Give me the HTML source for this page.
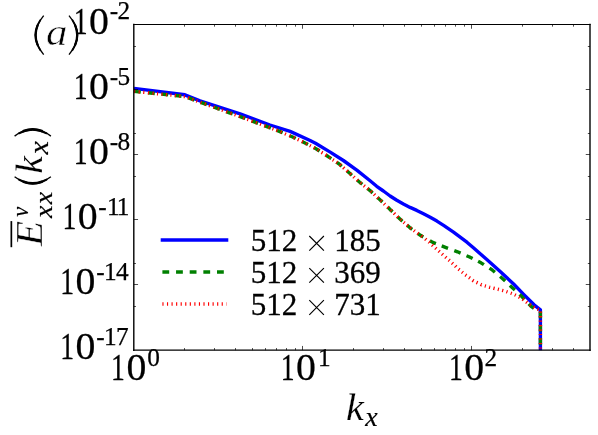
<!DOCTYPE html>
<html><head><meta charset="utf-8"><title>spectrum</title><style>
html,body{margin:0;padding:0;background:#fff;}
body{width:598px;height:435px;overflow:hidden;}
svg{display:block;will-change:transform;}
text{font-family:"Liberation Serif",serif;fill:#000;}
.cm{stroke:#000;stroke-width:0.3px;}
.tk{stroke:#000;stroke-width:0.7px;}
.sp{stroke:#000;stroke-width:0.25px;}
.sb{stroke:#000;stroke-width:0.7px;}
</style></head><body>
<svg width="598" height="435" viewBox="0 0 598 435">
<rect width="598" height="435" fill="#fff"/>
<defs><clipPath id="c"><rect x="133.8" y="24.5" width="456.2" height="325.7"/></clipPath></defs>
<g clip-path="url(#c)" fill="none" stroke-linejoin="round" stroke-width="3.4">
<path d="M134.0,88.4 L184.9,94.8 L200.0,100.9 L240.1,113.8 L270.0,125.0 L290.1,131.4 L310.1,140.5 L315.5,143.2 L330.2,152.1 L343.4,160.5 L356.8,170.1 L370.1,180.8 L376.7,186.3 L383.4,191.0 L390.1,196.0 L396.8,200.3 L403.4,204.0 L410.1,207.4 L416.8,210.4 L423.5,213.8 L430.2,217.3 L436.9,221.1 L443.6,225.4 L453.5,232.2 L466.9,242.2 L473.4,247.8 L486.8,259.5 L500.2,271.6 L513.6,284.0 L523.4,294.1 L534.1,304.8 L540.4,309.8 L540.4,352.0" stroke="#0000ff"/>
<path d="M134.0,91.4 L140.8,92.1 M148.0,92.8 L154.8,93.5 M161.4,94.1 L168.2,94.8 M174.8,95.5 L178.2,95.8 L181.5,96.2 M188.0,97.7 L194.4,100.1 M200.4,102.3 L203.5,103.4 L206.8,104.6 M213.5,107.0 L216.7,108.2 L219.9,109.3 M226.2,111.7 L229.4,112.8 L232.6,113.9 M238.9,116.2 L242.1,117.3 L245.3,118.5 M251.6,120.9 L254.8,122.1 L258.0,123.3 M264.4,125.7 L267.6,126.9 L270.8,128.1 M276.3,130.2 L280.0,131.6 L282.6,132.7 M289.6,135.7 L292.7,137.0 L295.7,138.5 M302.0,141.4 L305.0,142.9 L308.0,144.5 M313.8,147.6 L316.8,149.2 L319.6,151.0 M325.7,155.0 L328.5,156.8 L331.3,158.7 M336.4,162.1 L339.2,164.0 L341.7,166.2 M346.9,170.8 L349.4,173.0 L351.9,175.2 M357.2,180.0 L359.7,182.2 L362.3,184.3 M367.5,188.5 L370.1,190.6 L372.6,192.9 M377.5,197.5 L380.0,199.8 L382.4,202.1 M387.7,207.1 L390.1,209.4 L392.5,211.8 M397.5,216.6 L399.7,218.8 L402.4,221.2 M407.0,225.1 L409.5,227.3 L412.2,229.3 M417.7,233.3 L420.4,235.3 L423.3,237.0 M429.9,240.7 L432.8,242.4 L435.9,243.6 M441.7,245.9 L444.8,247.1 L448.0,248.3 M454.3,250.6 L457.5,251.8 L460.6,253.1 M466.5,255.7 L469.6,257.0 L472.6,258.5 M478.1,261.3 L481.0,262.8 L483.9,264.7 M489.5,268.2 L492.5,270.2 L494.9,272.2 M500.1,276.5 L502.7,278.7 L505.2,281.0 M509.9,285.5 L512.4,287.8 L514.9,290.1 M519.6,294.5 L522.1,296.8 L524.4,299.3 M528.8,303.9 L531.1,306.4 L533.9,308.2 M540.4,311.6 L540.4,318.2 M540.4,324.8 L540.4,331.5 M540.4,338.1 L540.4,344.8" stroke="#008000"/>
<path d="M134.0,91.4 L135.2,91.5 M138.6,91.9 L139.8,92.0 M143.2,92.3 L144.4,92.4 M147.9,92.8 L149.1,92.9 M152.5,93.2 L153.7,93.4 M157.0,93.7 L158.1,93.8 M161.4,94.1 L162.6,94.2 M165.9,94.6 L167.1,94.7 M170.4,95.0 L171.5,95.1 M174.8,95.5 L176.0,95.6 M179.3,95.9 L180.4,96.1 M183.7,96.5 L184.9,96.6 M188.0,97.7 L189.1,98.1 M192.2,99.3 L193.3,99.7 M196.3,100.8 L197.4,101.2 M200.5,102.3 L201.5,102.7 M204.6,103.8 L205.8,104.2 M209.0,105.4 L210.1,105.8 M213.4,107.0 L214.5,107.4 M217.7,108.6 L218.8,109.0 M221.9,110.1 L223.0,110.5 M226.2,111.6 L227.3,112.0 M230.4,113.2 L231.5,113.5 M234.6,114.6 L235.7,115.0 M238.9,116.1 L239.9,116.5 M243.1,117.7 L244.2,118.1 M247.3,119.3 L248.4,119.7 M251.5,120.9 L252.6,121.3 M255.8,122.5 L256.9,122.9 M260.0,124.1 L261.1,124.5 M264.3,125.7 L265.4,126.1 M268.5,127.2 L269.5,127.6 M272.5,128.7 L273.5,129.1 M276.4,130.2 L277.5,130.6 M280.5,131.8 L281.6,132.3 M284.9,133.7 L286.0,134.2 M289.3,135.5 L290.4,136.0 M293.6,137.4 L294.7,137.9 M297.7,139.4 L298.8,139.9 M301.8,141.4 L302.9,141.9 M305.9,143.4 L306.9,143.9 M309.8,145.5 L310.8,146.0 M313.7,147.6 L314.7,148.1 M317.7,149.8 L318.7,150.4 M321.5,152.3 L322.6,152.9 M325.4,154.8 L326.5,155.5 M329.3,157.3 L330.2,157.9 M332.8,159.7 L333.8,160.3 M336.4,162.1 L337.3,162.7 M339.9,164.6 L340.8,165.4 M343.3,167.6 L344.2,168.4 M346.7,170.6 L347.6,171.4 M350.1,173.6 L351.0,174.4 M353.6,176.7 L354.4,177.5 M357.0,179.8 L357.9,180.6 M360.4,182.8 L361.3,183.5 M363.9,185.6 L364.8,186.3 M367.4,188.4 L368.3,189.1 M370.8,191.2 L371.6,192.0 M374.1,194.3 L374.9,195.1 M377.4,197.4 L378.2,198.2 M380.7,200.5 L381.6,201.3 M384.1,203.7 L384.9,204.5 M387.4,206.9 L388.3,207.7 M390.8,210.0 L391.6,210.9 M394.0,213.2 L394.9,214.1 M397.3,216.4 L398.1,217.3 M400.5,219.5 L401.4,220.2 M403.7,222.3 L404.6,223.0 M406.9,225.1 L407.8,225.8 M410.2,227.8 L411.2,228.5 M413.9,230.5 L414.8,231.2 M417.5,233.2 L418.4,233.8 M421.2,235.9 L422.3,236.7 M425.3,239.0 L426.2,239.8 M428.8,241.9 L429.4,242.4 L429.6,242.6 M432.1,244.9 L433.0,245.7 M435.4,247.9 L436.3,248.7 M438.7,250.9 L439.6,251.7 M442.0,253.9 L442.9,254.7 M445.4,256.9 L446.3,257.7 M448.8,259.9 L449.6,260.6 M452.0,262.9 L452.9,263.7 M455.3,266.0 L456.1,266.9 M458.6,269.1 L459.5,269.8 M462.0,272.0 L462.9,272.7 M465.4,274.8 L466.4,275.5 M469.0,277.5 L470.0,278.2 M472.6,280.2 L473.4,280.8 L473.6,280.9 M476.5,282.4 L477.6,282.9 M480.6,284.3 L481.5,284.8 L481.6,284.8 M484.8,285.8 L485.9,286.1 M489.1,287.1 L489.7,287.3 L490.2,287.4 M493.4,288.2 L494.6,288.5 M497.8,289.2 L498.9,289.5 M502.1,290.4 L503.3,290.7 M506.4,291.6 L507.5,292.0 M510.7,293.1 L511.8,293.5 M514.8,294.8 L515.8,295.3 M518.8,296.9 L519.8,297.5 M522.6,299.2 L523.6,299.9 M526.2,301.9 L527.1,302.6 M529.8,304.6 L530.1,304.8 L530.8,305.2 M533.6,306.9 L534.6,307.5 M537.5,309.1 L538.6,309.5 M540.4,311.5 L540.4,312.7 M540.4,316.0 L540.4,317.2 M540.4,320.5 L540.4,321.7 M540.4,325.0 L540.4,326.2 M540.4,329.5 L540.4,330.7 M540.4,334.0 L540.4,335.1 M540.4,338.5 L540.4,339.6 M540.4,342.9 L540.4,344.1 M540.4,347.4 L540.4,348.6 M540.4,351.9 L540.4,352.0" stroke="#ff0000"/>
</g>
<g stroke="#000" stroke-width="0.7">
<line x1="184.50" y1="350.2" x2="184.50" y2="348.05"/>
<line x1="184.50" y1="24.5" x2="184.50" y2="26.65"/>
<line x1="214.50" y1="350.2" x2="214.50" y2="348.05"/>
<line x1="214.50" y1="24.5" x2="214.50" y2="26.65"/>
<line x1="235.50" y1="350.2" x2="235.50" y2="348.05"/>
<line x1="235.50" y1="24.5" x2="235.50" y2="26.65"/>
<line x1="252.50" y1="350.2" x2="252.50" y2="348.05"/>
<line x1="252.50" y1="24.5" x2="252.50" y2="26.65"/>
<line x1="265.50" y1="350.2" x2="265.50" y2="348.05"/>
<line x1="265.50" y1="24.5" x2="265.50" y2="26.65"/>
<line x1="276.50" y1="350.2" x2="276.50" y2="348.05"/>
<line x1="276.50" y1="24.5" x2="276.50" y2="26.65"/>
<line x1="286.50" y1="350.2" x2="286.50" y2="348.05"/>
<line x1="286.50" y1="24.5" x2="286.50" y2="26.65"/>
<line x1="295.50" y1="350.2" x2="295.50" y2="348.05"/>
<line x1="295.50" y1="24.5" x2="295.50" y2="26.65"/>
<line x1="302.50" y1="350.2" x2="302.50" y2="345.95"/>
<line x1="302.50" y1="24.5" x2="302.50" y2="28.75"/>
<line x1="353.50" y1="350.2" x2="353.50" y2="348.05"/>
<line x1="353.50" y1="24.5" x2="353.50" y2="26.65"/>
<line x1="383.50" y1="350.2" x2="383.50" y2="348.05"/>
<line x1="383.50" y1="24.5" x2="383.50" y2="26.65"/>
<line x1="404.50" y1="350.2" x2="404.50" y2="348.05"/>
<line x1="404.50" y1="24.5" x2="404.50" y2="26.65"/>
<line x1="421.50" y1="350.2" x2="421.50" y2="348.05"/>
<line x1="421.50" y1="24.5" x2="421.50" y2="26.65"/>
<line x1="434.50" y1="350.2" x2="434.50" y2="348.05"/>
<line x1="434.50" y1="24.5" x2="434.50" y2="26.65"/>
<line x1="445.50" y1="350.2" x2="445.50" y2="348.05"/>
<line x1="445.50" y1="24.5" x2="445.50" y2="26.65"/>
<line x1="455.50" y1="350.2" x2="455.50" y2="348.05"/>
<line x1="455.50" y1="24.5" x2="455.50" y2="26.65"/>
<line x1="464.50" y1="350.2" x2="464.50" y2="348.05"/>
<line x1="464.50" y1="24.5" x2="464.50" y2="26.65"/>
<line x1="471.50" y1="350.2" x2="471.50" y2="345.95"/>
<line x1="471.50" y1="24.5" x2="471.50" y2="28.75"/>
<line x1="522.50" y1="350.2" x2="522.50" y2="348.05"/>
<line x1="522.50" y1="24.5" x2="522.50" y2="26.65"/>
<line x1="552.50" y1="350.2" x2="552.50" y2="348.05"/>
<line x1="552.50" y1="24.5" x2="552.50" y2="26.65"/>
<line x1="573.50" y1="350.2" x2="573.50" y2="348.05"/>
<line x1="573.50" y1="24.5" x2="573.50" y2="26.65"/>
<line x1="133.8" y1="89.50" x2="138.05" y2="89.50"/>
<line x1="590.0" y1="89.50" x2="585.75" y2="89.50"/>
<line x1="133.8" y1="154.50" x2="138.05" y2="154.50"/>
<line x1="590.0" y1="154.50" x2="585.75" y2="154.50"/>
<line x1="133.8" y1="219.50" x2="138.05" y2="219.50"/>
<line x1="590.0" y1="219.50" x2="585.75" y2="219.50"/>
<line x1="133.8" y1="284.50" x2="138.05" y2="284.50"/>
<line x1="590.0" y1="284.50" x2="585.75" y2="284.50"/>
<line x1="133.8" y1="46.50" x2="135.95000000000002" y2="46.50"/>
<line x1="590.0" y1="46.50" x2="587.85" y2="46.50"/>
<line x1="133.8" y1="133.50" x2="135.95000000000002" y2="133.50"/>
<line x1="590.0" y1="133.50" x2="587.85" y2="133.50"/>
<line x1="133.8" y1="176.50" x2="135.95000000000002" y2="176.50"/>
<line x1="590.0" y1="176.50" x2="587.85" y2="176.50"/>
<line x1="133.8" y1="263.50" x2="135.95000000000002" y2="263.50"/>
<line x1="590.0" y1="263.50" x2="587.85" y2="263.50"/>
<line x1="133.8" y1="306.50" x2="135.95000000000002" y2="306.50"/>
<line x1="590.0" y1="306.50" x2="587.85" y2="306.50"/>
</g>
<g stroke="#000" stroke-linecap="square">
<line x1="133.8" y1="24.5" x2="133.8" y2="350.2" stroke-width="1.4"/>
<line x1="590.0" y1="24.5" x2="590.0" y2="350.2" stroke-width="1.4"/>
<line x1="133.8" y1="24.5" x2="590.0" y2="24.5" stroke-width="1.15"/>
<line x1="133.8" y1="350.2" x2="590.0" y2="350.2" stroke-width="1.3"/>
</g>
<text transform="translate(73.71,33.70) scale(0.2771,0.3740)" font-size="100" class="tk">1</text><text transform="translate(89.01,33.63) scale(0.3976,0.3733)" font-size="100" class="tk">0</text>
<text y="19.4" font-size="25.3" class="sp" x="109.71" letter-spacing="-0.6">-2</text>
<text transform="translate(73.71,98.80) scale(0.2771,0.3740)" font-size="100" class="tk">1</text><text transform="translate(89.01,98.73) scale(0.3976,0.3733)" font-size="100" class="tk">0</text>
<text y="84.5" font-size="25.3" class="sp" x="109.71" letter-spacing="-0.6">-5</text>
<text transform="translate(73.71,163.90) scale(0.2771,0.3740)" font-size="100" class="tk">1</text><text transform="translate(89.01,163.83) scale(0.3976,0.3733)" font-size="100" class="tk">0</text>
<text y="149.6" font-size="25.3" class="sp" x="109.71" letter-spacing="-0.6">-8</text>
<text transform="translate(62.51,229.00) scale(0.2771,0.3740)" font-size="100" class="tk">1</text><text transform="translate(77.81,228.93) scale(0.3976,0.3733)" font-size="100" class="tk">0</text>
<text y="214.7" font-size="25.3" class="sp"><tspan x="98.21">-</tspan><tspan x="106.9" letter-spacing="-1.85">11</tspan></text>
<text transform="translate(60.31,294.10) scale(0.2771,0.3740)" font-size="100" class="tk">1</text><text transform="translate(75.61,294.03) scale(0.3976,0.3733)" font-size="100" class="tk">0</text>
<text y="279.8" font-size="25.3" class="sp" x="96.21" letter-spacing="-0.6">-14</text>
<text transform="translate(60.31,359.20) scale(0.2771,0.3740)" font-size="100" class="tk">1</text><text transform="translate(75.61,359.13) scale(0.3976,0.3733)" font-size="100" class="tk">0</text>
<text y="344.9" font-size="25.3" class="sp" x="96.21" letter-spacing="-0.6">-17</text>
<text transform="translate(111.11,379.90) scale(0.2771,0.3740)" font-size="100" class="tk">1</text><text transform="translate(126.41,379.83) scale(0.3976,0.3733)" font-size="100" class="tk">0</text>
<text y="365.6" font-size="25.3" class="sp" x="147.19">0</text>
<text transform="translate(280.81,379.90) scale(0.2771,0.3740)" font-size="100" class="tk">1</text><text transform="translate(296.11,379.83) scale(0.3976,0.3733)" font-size="100" class="tk">0</text>
<text y="365.6" font-size="25.3" class="sp" x="317.92">1</text>
<text transform="translate(449.01,379.90) scale(0.2771,0.3740)" font-size="100" class="tk">1</text><text transform="translate(464.31,379.83) scale(0.3976,0.3733)" font-size="100" class="tk">0</text>
<text y="365.6" font-size="25.3" class="sp" x="484.46">2</text>
<line x1="160.7" y1="240" x2="228.3" y2="240" stroke="#0000ff" stroke-width="3.5"/>
<line x1="162.4" y1="272.05" x2="226.6" y2="272.05" stroke="#008000" stroke-width="3.4" stroke-dasharray="6.8 6.85"/>
<line x1="162.4" y1="304" x2="226.6" y2="304" stroke="#ff0000" stroke-width="3.4" stroke-dasharray="1.14 3.42"/>
<text transform="translate(250.8,251.2) scale(0.954,1)" font-size="32.5" class="cm">512</text>
<text transform="translate(334.2,251.2) scale(0.954,1)" font-size="32.5" class="cm">185</text>
<path d="M309.3,236.0 L323.9,250.6 M323.9,236.0 L309.3,250.6" stroke="#000" stroke-width="1.15" fill="none"/>
<text transform="translate(250.8,283.3) scale(0.954,1)" font-size="32.5" class="cm">512</text>
<text transform="translate(334.2,283.3) scale(0.954,1)" font-size="32.5" class="cm">369</text>
<path d="M309.3,268.1 L323.9,282.7 M323.9,268.1 L309.3,282.7" stroke="#000" stroke-width="1.15" fill="none"/>
<text transform="translate(250.8,315.4) scale(0.954,1)" font-size="32.5" class="cm">512</text>
<text transform="translate(334.2,315.4) scale(0.954,1)" font-size="32.5" class="cm">731</text>
<path d="M309.3,300.2 L323.9,314.79999999999995 M323.9,300.2 L309.3,314.79999999999995" stroke="#000" stroke-width="1.15" fill="none"/>
<path d="M43.69,15.60 Q27.41,35.10 43.69,54.60" fill="none" stroke="#000" stroke-width="1.35"/><path d="M40.25,20.28 Q30.85,35.10 40.25,49.92" fill="none" stroke="#000" stroke-width="1.82" stroke-linecap="round"/><path d="M37.59,25.35 Q33.51,35.10 37.59,44.85" fill="none" stroke="#000" stroke-width="2.30" stroke-linecap="round"/><text transform="translate(45.91,45.21) scale(0.4302,0.3896)" font-size="100" font-style="italic" stroke="#fff" stroke-width="1.34">a</text><path d="M69.01,15.60 Q85.49,35.10 69.01,54.60" fill="none" stroke="#000" stroke-width="1.35"/><path d="M72.49,20.28 Q82.01,35.10 72.49,49.92" fill="none" stroke="#000" stroke-width="1.82" stroke-linecap="round"/><path d="M75.19,25.35 Q79.31,35.10 75.19,44.85" fill="none" stroke="#000" stroke-width="2.30" stroke-linecap="round"/>
<text transform="translate(346.09,419.60) scale(0.4023,0.3768)" font-size="100" font-style="italic" stroke="#fff" stroke-width="0.51">k</text><text transform="translate(365.28,425.80) scale(0.2809,0.2791)" font-size="100" font-style="italic" class="sb">x</text>
<g transform="translate(41.5,246.5) rotate(-90)">
<rect x="-0.7" y="-31.0" width="26.1" height="1.7" fill="#000"/>
<text transform="translate(0.21,0.20) scale(0.4149,0.3847)" font-size="100" font-style="italic" stroke="#fff" stroke-width="1.00">E</text>
<text transform="translate(29.77,-13.93) scale(0.2233,0.2301)" font-size="100" font-style="italic" class="sb">v</text>
<text transform="translate(28.38,10.00) scale(0.2809,0.2505)" font-size="100" font-style="italic" class="sb">x</text>
<text transform="translate(42.18,10.00) scale(0.2809,0.2505)" font-size="100" font-style="italic" class="sb">x</text>
<path d="M69.79,-26.90 Q56.41,-8.75 69.79,9.40" fill="none" stroke="#000" stroke-width="1.35"/><path d="M66.97,-22.54 Q59.23,-8.75 66.97,5.04" fill="none" stroke="#000" stroke-width="1.98" stroke-linecap="round"/><path d="M64.77,-17.83 Q61.43,-8.75 64.77,0.33" fill="none" stroke="#000" stroke-width="2.60" stroke-linecap="round"/>
<text transform="translate(72.70,0.70) scale(0.4000,0.3710)" font-size="100" font-style="italic" stroke="#fff" stroke-width="0.52">k</text>
<text transform="translate(91.90,6.70) scale(0.3034,0.2659)" font-size="100" font-style="italic" class="sb">x</text>
<path d="M110.41,-26.90 Q123.79,-8.75 110.41,9.40" fill="none" stroke="#000" stroke-width="1.35"/><path d="M113.23,-22.54 Q120.97,-8.75 113.23,5.04" fill="none" stroke="#000" stroke-width="1.98" stroke-linecap="round"/><path d="M115.43,-17.83 Q118.77,-8.75 115.43,0.33" fill="none" stroke="#000" stroke-width="2.60" stroke-linecap="round"/>
</g>
</svg>
</body></html>
